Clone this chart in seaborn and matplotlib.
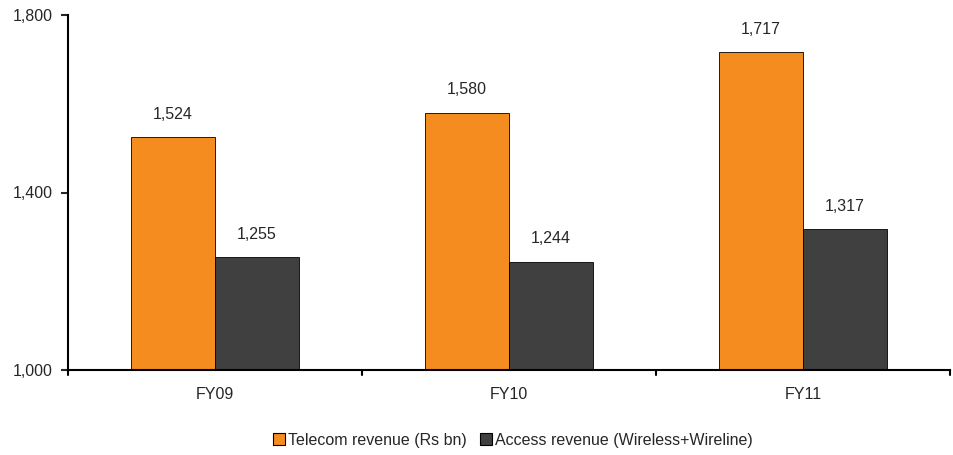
import matplotlib
matplotlib.use("Agg")
import matplotlib.pyplot as plt
import seaborn as sns
import pandas as pd
from matplotlib.patches import Patch

years = ["FY09", "FY10", "FY11"]
telecom = [1524, 1580, 1717]
access = [1255, 1244, 1317]
series_names = ["Telecom revenue (Rs bn)", "Access revenue (Wireless+Wireline)"]
colors = ["#F58C1F", "#404040"]

df = pd.DataFrame({
    "year": years * 2,
    "value": telecom + access,
    "series": [series_names[0]] * 3 + [series_names[1]] * 3,
})

sns.set_theme(style="white")
plt.rcParams["font.family"] = ["Liberation Sans", "DejaVu Sans"]
FS = 11.5

fig = plt.figure(figsize=(9.54, 4.55), dpi=100)
ax = fig.add_axes([68 / 954, 1 - 370 / 455, (950 - 68) / 954, (370 - 15) / 455])

sns.barplot(data=df, x="year", y="value", hue="series", palette=colors,
            saturation=1, width=0.57, edgecolor="black", linewidth=0.6,
            ax=ax, legend=False)

ax.set_xlim(-0.5, 2.5)
ax.set_ylim(1000, 1800)
ax.set_yticks([1000, 1400, 1800])
ax.set_yticklabels([f"{v:,}" for v in [1000, 1400, 1800]], fontsize=FS)
ax.set_xlabel("")
ax.set_ylabel("")
ax.tick_params(axis="x", length=0, labelsize=FS, pad=12)
ax.tick_params(axis="y", length=5, width=1.5, direction="out", left=True, pad=6)

# category boundary ticks on the x axis
for b in [-0.5, 0.5, 1.5, 2.5]:
    ax.plot([b, b], [0, -0.014], transform=ax.get_xaxis_transform(),
            color="black", lw=1.5, clip_on=False)

for s in ["top", "right"]:
    ax.spines[s].set_visible(False)
for s in ["left", "bottom"]:
    ax.spines[s].set_linewidth(1.5)
    ax.spines[s].set_color("black")

for container in ax.containers:
    ax.bar_label(container, labels=[f"{v:,.0f}" for v in container.datavalues],
                 padding=11, fontsize=FS)

handles = [Patch(facecolor=c, edgecolor="black", linewidth=0.8) for c in colors]
fig.legend(handles, series_names, loc="center", bbox_to_anchor=(513 / 954, 1 - 440 / 455),
           ncol=2, frameon=False, fontsize=FS, handlelength=0.75, handleheight=0.75,
           handletextpad=0.2, columnspacing=0.8)

fig.savefig("out.png", dpi=100)
